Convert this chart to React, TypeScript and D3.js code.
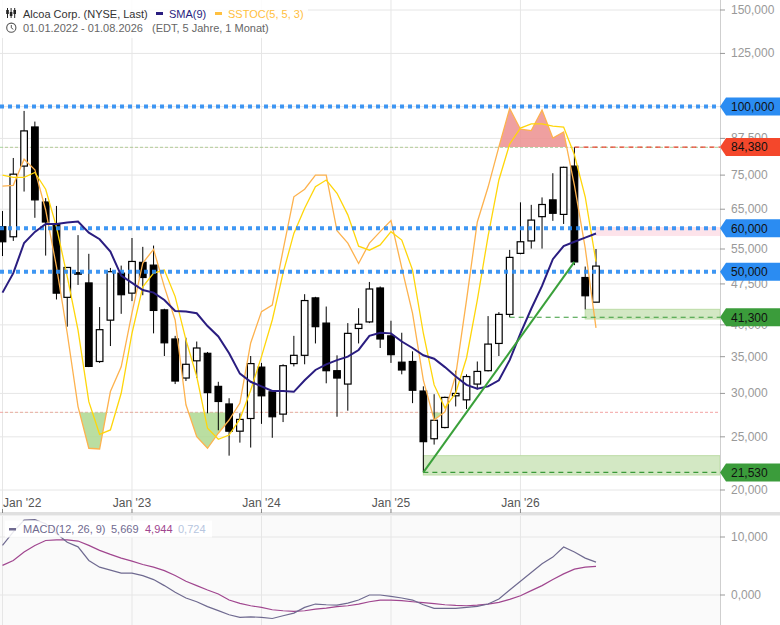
import React from "react";
import * as d3 from "d3";

// monthly candles, Jan 2022 - Aug 2026
const months = d3.timeMonth.range(new Date(2022, 0, 1), new Date(2026, 8, 1));

const open = [60.4, 57.9, 77.9, 91.8, 67.0, 61.1, 44.9, 49.8, 47.7, 34.3, 40.8, 49.7, 45.7, 52.0, 51.4, 42.6, 37.7, 32.0, 34.4, 35.5, 30.9, 28.7, 25.6, 27.0, 33.5, 30.2, 27.5, 34.0, 35.2, 44.8, 40.3, 33.0, 31.2, 39.4, 40.5, 46.7, 38.2, 34.2, 34.3, 30.3, 24.8, 26.0, 29.7, 29.2, 31.2, 33.0, 37.0, 41.8, 54.0, 56.9, 63.0, 67.6, 63.6, 77.9, 48.8, 44.0];
const high = [64.5, 80.6, 98.2, 93.9, 68.1, 65.9, 51.0, 58.3, 53.9, 43.1, 50.8, 51.3, 57.6, 55.5, 55.8, 42.8, 38.2, 37.9, 37.3, 35.7, 31.5, 29.4, 27.6, 35.1, 34.1, 30.3, 33.9, 38.2, 45.5, 45.0, 43.2, 35.2, 40.3, 42.9, 47.9, 47.0, 40.7, 38.7, 35.8, 30.9, 29.9, 29.6, 33.0, 32.5, 34.3, 41.5, 42.2, 54.8, 66.9, 66.2, 68.3, 75.6, 77.7, 84.38, 51.1, 55.0];
const low = [53.4, 56.9, 70.0, 62.7, 53.5, 44.5, 39.7, 47.3, 33.5, 34.1, 36.6, 41.9, 44.2, 45.3, 38.6, 35.1, 31.2, 31.6, 32.0, 27.6, 25.7, 23.1, 24.4, 23.9, 26.4, 24.9, 26.6, 33.6, 33.9, 37.0, 31.3, 27.2, 27.9, 37.0, 40.3, 36.3, 34.1, 32.5, 28.8, 21.53, 24.2, 25.9, 28.4, 28.1, 30.5, 32.9, 35.1, 41.3, 53.8, 55.1, 55.1, 61.9, 61.1, 51.4, 42.7, 44.0];
const close = [56.7, 75.3, 90.3, 67.6, 61.6, 45.7, 50.9, 49.5, 33.6, 39.2, 50.0, 45.4, 52.2, 48.8, 42.5, 37.1, 31.6, 33.9, 36.3, 30.1, 29.0, 25.6, 26.9, 34.0, 29.7, 27.2, 33.7, 35.2, 44.3, 39.7, 33.0, 32.0, 38.6, 40.1, 46.5, 37.7, 35.3, 33.1, 30.4, 24.5, 26.8, 29.5, 30.0, 32.2, 32.9, 36.9, 41.8, 53.1, 56.7, 62.1, 66.3, 63.9, 77.5, 52.1, 45.2, 51.2];

const sma9 = [45.8, 49.7, 56.4, 59.1, 61.1, 61.1, 61.5, 61.7, 58.9, 57.3, 54.4, 49.2, 47.7, 46.3, 45.8, 44.4, 42.4, 42.3, 42.0, 39.8, 38.1, 35.5, 32.6, 31.5, 30.9, 30.3, 30.3, 30.2, 31.7, 33.1, 33.9, 34.5, 35.0, 36.0, 38.2, 38.7, 38.6, 37.3, 36.3, 35.2, 34.7, 33.5, 32.2, 31.1, 30.6, 30.9, 31.7, 34.5, 38.6, 42.8, 47.1, 52.7, 55.7, 56.7, 57.7, 58.7];

const stochK = [71.2, 71.4, 77.3, 74.9, 65.8, 53.0, 37.9, 21.3, 0.4, 0, 24.7, 30.3, 42.5, 53.8, 56.9, 48.4, 40.9, 21.7, 6.7, 0.4, 8.6, 15.8, 22.1, 35.7, 42.8, 44.3, 56.7, 68.8, 70.5, 73.7, 73.7, 61.1, 58.3, 53.7, 58.3, 60.9, 63.4, 52.7, 42.4, 27.3, 15.8, 20.1, 28.4, 45.4, 63.1, 71.0, 80.2, 99.8, 89.2, 88.5, 99.0, 84.7, 87.8, 71.4, 57.2, 39.1];
const stochD = [73.7, 73.2, 73.2, 74.3, 70.5, 62.0, 50.7, 38.6, 22.4, 8.0, 10.4, 24.3, 37.9, 48.4, 51.5, 52.2, 46.2, 36.4, 28.1, 11.3, 5.3, 7.6, 16.3, 25.0, 32.6, 40.9, 51.5, 60.5, 66.2, 71.1, 72.6, 69.6, 64.7, 57.6, 56.7, 57.9, 60.9, 59.0, 52.2, 37.9, 26.2, 21.0, 24.4, 32.3, 45.4, 59.9, 72.6, 81.7, 89.8, 91.9, 91.9, 90.8, 90.3, 78.3, 68.8, 54.1];

const macdLine = [8.55, 10.9, 12.9, 13.0, 12.3, 10.6, 9.1, 8.3, 5.95, 4.8, 4.3, 3.76, 3.76, 3.35, 2.66, 1.62, 0.46, -0.52, -1.16, -2.0, -2.7, -3.4, -3.87, -3.76, -3.87, -4.05, -3.58, -3.12, -2.14, -1.56, -1.68, -1.73, -1.39, -0.87, 0, 0, -0.23, -0.52, -0.87, -1.68, -2.31, -2.31, -2.31, -2.14, -1.97, -1.56, -0.69, 0.87, 2.37, 3.87, 5.38, 6.53, 8.27, 7.4, 6.36, 5.67];
const signalLine = [5.1, 5.95, 7.4, 8.55, 9.4, 9.5, 9.5, 9.3, 8.55, 7.7, 7.0, 6.36, 5.84, 5.26, 4.8, 4.2, 3.35, 2.37, 1.62, 0.87, 0.17, -0.87, -1.45, -1.85, -2.14, -2.54, -2.72, -2.83, -2.72, -2.43, -2.25, -2.02, -1.85, -1.56, -1.16, -0.87, -0.87, -0.98, -1.16, -1.33, -1.5, -1.68, -1.79, -1.85, -1.73, -1.56, -1.27, -0.75, -0.12, 0.75, 1.62, 2.66, 3.64, 4.45, 4.8, 4.94];
const macdLegendValues = ["5,669", "4,944", "0,724"];

const yTicks = [20, 25, 30, 35, 40, 47.5, 55, 65, 75, 87.5, 100, 125, 150];
const macdTicks = [0, 10];
const blueLevels = [100, 60, 50];
const tags = [
  { value: 100, color: "#2b8cf2" },
  { value: 84.38, color: "#f4472b" },
  { value: 60, color: "#2b8cf2" },
  { value: 50, color: "#2b8cf2" },
  { value: 41.3, color: "#3b9c3b" },
  { value: 21.53, color: "#3b9c3b" },
];
const zones = [
  { from: 39, lo: 21.3, hi: 23.1, fill: "#d3e8c4", stroke: "#bcdca6" },
  { from: 54, lo: 41.0, hi: 42.7, fill: "#d3e8c4", stroke: "#bcdca6" },
  { from: 55, lo: 58.2, hi: 60.2, fill: "#fde3ea", stroke: "#fde3ea" },
];
const dashedLevels = [
  { from: 39, value: 21.53, color: "#3a9a3a" },
  { from: 47, value: 41.3, color: "#3a9a3a" },
  { from: 53, value: 84.38, color: "#e8412c" },
];
const trend = [
  { i: 39, v: 21.53 },
  { i: 53, v: 52.1 },
];

const de = d3.formatLocale({ decimal: ",", thousands: ".", grouping: [3], currency: ["", "€"] });
const fmt = de.format(".3f");

const App: React.FC = () => {
  const ref = React.useRef<SVGSVGElement>(null);

  React.useEffect(() => {
    const svg = d3.select(ref.current);
    svg.selectAll("*").remove();

    const W = 720,
      priceBottom = 512,
      macdTop = 516,
      H = 625;

    const x = d3.scaleLinear().domain([0, months.length - 1]).range([2.5, 596]);
    const y = d3.scaleLog().domain([20, 150]).range([490, 10]);
    const sy = d3.scaleLinear().domain([0, 20, 80, 100]).range([449, 412.3, 147.3, 108]);
    const ym = d3.scaleLinear().domain([0, 10]).range([595, 537]);
    const janIdx = months.map((m, i) => (m.getMonth() === 0 ? i : -1)).filter((i) => i >= 0);

    const defs = svg.append("defs");
    defs.append("clipPath").attr("id", "cp-price").append("rect").attr("x", 0).attr("y", 0).attr("width", W).attr("height", priceBottom);
    defs.append("clipPath").attr("id", "cp-macd").append("rect").attr("x", 0).attr("y", macdTop).attr("width", W).attr("height", H - macdTop);
    defs.append("clipPath").attr("id", "cp-ob").append("rect").attr("x", 0).attr("y", 0).attr("width", W).attr("height", sy(80));
    defs.append("clipPath").attr("id", "cp-os").append("rect").attr("x", 0).attr("y", sy(20)).attr("width", W).attr("height", priceBottom - sy(20));

    svg.append("rect").attr("width", 780).attr("height", H).attr("fill", "#fff");
    svg.append("rect").attr("x", 0).attr("y", macdTop).attr("width", W).attr("height", H - macdTop).attr("fill", "#fafafa");

    // grid
    const grid = svg.append("g").attr("stroke", "#e6e6e6").attr("stroke-width", 1);
    janIdx.forEach((i) => {
      grid.append("line").attr("x1", x(i)).attr("x2", x(i)).attr("y1", 0).attr("y2", priceBottom);
      grid.append("line").attr("x1", x(i)).attr("x2", x(i)).attr("y1", macdTop).attr("y2", H);
    });
    yTicks.forEach((t) => {
      grid.append("line").attr("x1", 0).attr("x2", W).attr("y1", y(t)).attr("y2", y(t));
    });
    macdTicks.forEach((t) => {
      grid.append("line").attr("x1", 0).attr("x2", W).attr("y1", ym(t)).attr("y2", ym(t));
    });

    const price = svg.append("g").attr("clip-path", "url(#cp-price)");

    // zones
    zones.forEach((z) => {
      price
        .append("rect")
        .attr("x", x(z.from))
        .attr("y", y(z.hi))
        .attr("width", W - x(z.from))
        .attr("height", y(z.lo) - y(z.hi))
        .attr("fill", z.fill)
        .attr("stroke", z.stroke);
    });

    // stochastic thresholds
    price.append("line").attr("x1", 0).attr("x2", W).attr("y1", sy(80)).attr("y2", sy(80)).attr("stroke", "#a3d69a").attr("stroke-dasharray", "3 2");
    price.append("line").attr("x1", 0).attr("x2", W).attr("y1", sy(20)).attr("y2", sy(20)).attr("stroke", "#f3a3a3").attr("stroke-dasharray", "3 2");

    // stochastic fills
    const idx = months.map((_, i) => i);
    const obArea = d3.area<number>().x((i) => x(i)).y0(sy(80)).y1((i) => sy(stochK[i]));
    const osArea = d3.area<number>().x((i) => x(i)).y0(sy(20)).y1((i) => sy(stochK[i]));
    price.append("path").datum(idx).attr("d", obArea).attr("fill", "#ec8f8f").attr("opacity", 0.85).attr("clip-path", "url(#cp-ob)");
    price.append("path").datum(idx).attr("d", osArea).attr("fill", "#a9d68a").attr("opacity", 0.8).attr("clip-path", "url(#cp-os)");

    // candles
    const bw = 6.6;
    const candles = price.append("g");
    idx.forEach((i) => {
      const cx = x(i);
      const up = close[i] >= open[i];
      candles.append("line").attr("x1", cx).attr("x2", cx).attr("y1", y(high[i])).attr("y2", y(low[i])).attr("stroke", "#000").attr("stroke-width", 1);
      const top = y(Math.max(open[i], close[i]));
      const h = Math.max(1.5, Math.abs(y(open[i]) - y(close[i])));
      candles
        .append("rect")
        .attr("x", cx - bw / 2)
        .attr("y", top)
        .attr("width", bw)
        .attr("height", h)
        .attr("fill", up ? "#fff" : "#000")
        .attr("stroke", "#000")
        .attr("stroke-width", 1.2);
    });

    // stochastic lines
    const kLine = d3.line<number>().x((_, i) => x(i)).y((d) => sy(d));
    price.append("path").datum(stochK).attr("d", kLine).attr("fill", "none").attr("stroke", "#fdb24e").attr("stroke-width", 1.3);
    price.append("path").datum(stochD).attr("d", kLine).attr("fill", "none").attr("stroke", "#ffd60a").attr("stroke-width", 1.3);

    // blue dotted levels
    blueLevels.forEach((v) => {
      price
        .append("line")
        .attr("x1", 0)
        .attr("x2", W)
        .attr("y1", y(v))
        .attr("y2", y(v))
        .attr("stroke", "#2b8cf2")
        .attr("stroke-width", 4)
        .attr("stroke-dasharray", "4 4")
        .attr("opacity", 0.9);
    });

    // dashed levels
    dashedLevels.forEach((l) => {
      price
        .append("line")
        .attr("x1", x(l.from))
        .attr("x2", W)
        .attr("y1", y(l.value))
        .attr("y2", y(l.value))
        .attr("stroke", l.color)
        .attr("stroke-width", 1.2)
        .attr("stroke-dasharray", "5 4");
    });

    // SMA
    const priceLine = d3.line<number>().x((_, i) => x(i)).y((d) => y(d));
    price.append("path").datum(sma9).attr("d", priceLine).attr("fill", "none").attr("stroke", "#2a1d80").attr("stroke-width", 2);

    // trend line
    price
      .append("path")
      .datum(trend)
      .attr("d", d3.line<{ i: number; v: number }>().x((d) => x(d.i)).y((d) => y(d.v)))
      .attr("fill", "none")
      .attr("stroke", "#3aa03a")
      .attr("stroke-width", 2);

    // MACD
    const macd = svg.append("g").attr("clip-path", "url(#cp-macd)");
    const mLine = d3.line<number>().x((_, i) => x(i)).y((d) => ym(d));
    macd.append("path").datum(signalLine).attr("d", mLine).attr("fill", "none").attr("stroke", "#a0468f").attr("stroke-width", 1.2);
    macd.append("path").datum(macdLine).attr("d", mLine).attr("fill", "none").attr("stroke", "#6f6a90").attr("stroke-width", 1.2);

    // panel separator
    svg.append("rect").attr("x", 0).attr("y", priceBottom).attr("width", 780).attr("height", 3.5).attr("fill", "#e0e0e0");

    // right axis
    svg.append("line").attr("x1", W + 0.5).attr("x2", W + 0.5).attr("y1", 0).attr("y2", H).attr("stroke", "#cfcfcf");
    const ax = svg.append("g").attr("font-size", 12).attr("fill", "#999");
    yTicks.forEach((t) => {
      ax.append("line").attr("x1", W).attr("x2", W + 5).attr("y1", y(t)).attr("y2", y(t)).attr("stroke", "#999");
      ax.append("text").attr("x", 731).attr("y", y(t) + 4).text(fmt(t));
    });
    macdTicks.forEach((t) => {
      ax.append("line").attr("x1", W).attr("x2", W + 5).attr("y1", ym(t)).attr("y2", ym(t)).attr("stroke", "#999");
      ax.append("text").attr("x", 731).attr("y", ym(t) + 4).text(fmt(t));
    });

    // tags
    tags.forEach((tg) => {
      const ty = y(tg.value);
      svg
        .append("path")
        .attr("d", `M${W},${ty} L${W + 6},${ty - 9} L780,${ty - 9} L780,${ty + 9} L${W + 6},${ty + 9} Z`)
        .attr("fill", tg.color);
      svg.append("text").attr("x", 731).attr("y", ty + 4.3).attr("font-size", 12).attr("fill", "#111").text(fmt(tg.value));
    });

    // x axis
    const xa = svg.append("g").attr("font-size", 12).attr("fill", "#555");
    const tf = d3.timeFormat("%b '%y");
    janIdx.forEach((i, k) => {
      xa.append("line").attr("x1", x(i)).attr("x2", x(i)).attr("y1", 509).attr("y2", 513).attr("stroke", "#888");
      xa.append("text")
        .attr("x", k === 0 ? 3 : x(i))
        .attr("y", 507)
        .attr("text-anchor", k === 0 ? "start" : "middle")
        .text(tf(months[i]));
    });

    // MACD legend
    const ml = svg.append("g").attr("font-size", 11);
    ml.append("rect").attr("x", 5).attr("y", 520.5).attr("width", 207).attr("height", 17).attr("fill", "#fff").attr("opacity", 0.85);
    ml.append("rect").attr("x", 9).attr("y", 528).attr("width", 7).attr("height", 2.5).attr("fill", "#6f6a90");
    ml.append("text").attr("x", 23).attr("y", 532.5).attr("fill", "#6f6a90").text("MACD(12, 26, 9)");
    ml.append("text").attr("x", 111).attr("y", 532.5).attr("fill", "#6f6a90").text(macdLegendValues[0]);
    ml.append("text").attr("x", 145).attr("y", 532.5).attr("fill", "#a0468f").text(macdLegendValues[1]);
    ml.append("text").attr("x", 178).attr("y", 532.5).attr("fill", "#b7c6e0").text(macdLegendValues[2]);

    // header
    const hd = svg.append("g").attr("font-size", 11);
    hd.append("rect").attr("x", 0).attr("y", 0).attr("width", 308).attr("height", 38).attr("fill", "#fff").attr("opacity", 0.85);
    [0, 1, 2].forEach((k) => {
      const ix = 7.5 + k * 3.6;
      hd.append("line").attr("x1", ix).attr("x2", ix).attr("y1", 8).attr("y2", 18).attr("stroke", "#222").attr("stroke-width", 1);
      hd.append("rect").attr("x", ix - 1.3).attr("y", 10 + (k % 2) * 2).attr("width", 2.6).attr("height", 4).attr("fill", "#222");
    });
    hd.append("text").attr("x", 23).attr("y", 17.5).attr("fill", "#333").text("Alcoa Corp. (NYSE, Last)");
    hd.append("rect").attr("x", 156).attr("y", 12).attr("width", 7).attr("height", 3).attr("fill", "#2a1d80");
    hd.append("text").attr("x", 169).attr("y", 17.5).attr("fill", "#2a1d80").text("SMA(9)");
    hd.append("rect").attr("x", 215).attr("y", 12).attr("width", 7).attr("height", 3).attr("fill", "#ffc040");
    hd.append("text").attr("x", 228).attr("y", 17.5).attr("fill", "#ffc040").text("SSTOC(5, 5, 3)");
    hd.append("circle").attr("cx", 11.3).attr("cy", 27.7).attr("r", 4.6).attr("fill", "none").attr("stroke", "#555").attr("stroke-width", 1.1);
    hd.append("path").attr("d", "M11.3,25 L11.3,27.9 L13.3,29.3").attr("fill", "none").attr("stroke", "#555").attr("stroke-width", 1);
    hd.append("text").attr("x", 23).attr("y", 32).attr("fill", "#666").text("01.01.2022 - 01.08.2026");
    hd.append("text").attr("x", 152).attr("y", 32).attr("fill", "#666").text("(EDT, 5 Jahre, 1 Monat)");
  }, []);

  return (
    <div style={{ position: "absolute", left: 0, top: 0 }}>
      <svg
        ref={ref}
        width={780}
        height={625}
        style={{ display: "block", fontFamily: "'Liberation Sans', Arial, sans-serif" }}
      />
    </div>
  );
};

export default App;
